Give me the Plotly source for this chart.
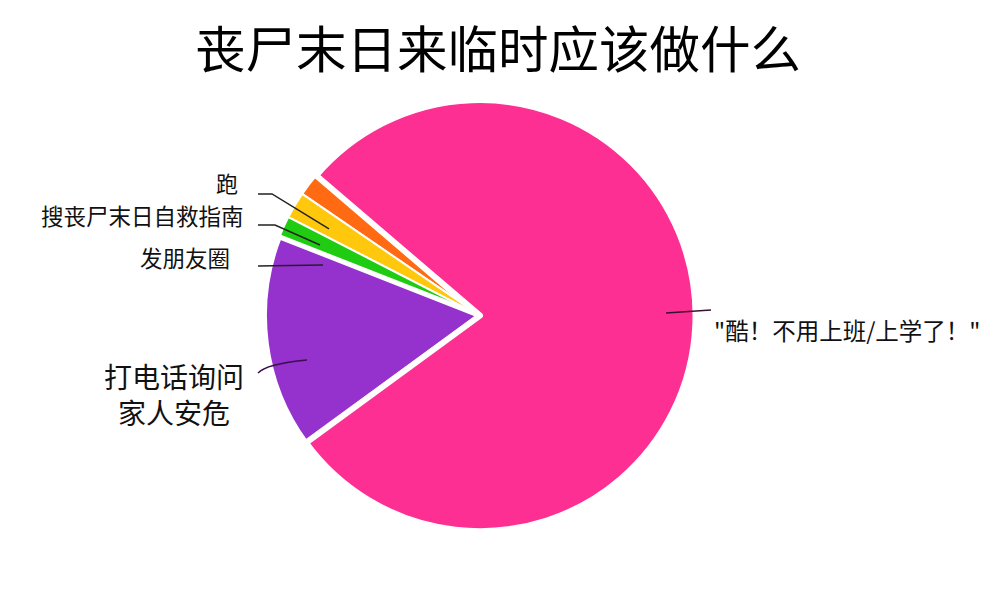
import plotly.graph_objects as go

W, H = 1000, 614

# slices, counter-clockwise from the orange one
labels = ['跑', '搜丧尸末日自救指南', '发朋友圈', '打电话询问<br>家人安危', '"酷！不用上班/上学了！"']
values = [1.7, 2.0, 1.6, 16.0, 78.7]
colors = ['#FF6A13', '#FFC80C', '#20CC12', '#9531CC', '#FE2F92']
title = '丧尸末日来临时应该做什么'


def px(x, y):
    # pixel -> paper coords
    return x / W, 1 - y / H


fig = go.Figure()
fig.add_trace(go.Pie(
    labels=labels, values=values, sort=False, direction='counterclockwise',
    rotation=-55.6, textinfo='none', hoverinfo='label+percent',
    marker=dict(colors=colors, line=dict(color='white', width=[2, 2, 2, 5, 6])),
    domain=dict(x=[0.256, 0.688], y=[0.148, 0.850]),
    showlegend=False,
))

# label text: (x, y, anchor, size); y shifted up to offset the CJK baseline
label_pos = [
    (232, 174, 'right', 22),
    (238, 207, 'right', 22.5),
    (224, 249, 'right', 22.5),
    (166, 386, 'center', 28),
    (704, 322, 'left', 23.5),
]
for txt, (x, y, anc, sz) in zip(labels, label_pos):
    ax, ay = px(x, y)
    fig.add_annotation(x=ax, y=ay, xref='paper', yref='paper', text=txt,
                       showarrow=False, xanchor=anc, yanchor='middle', align='center',
                       font=dict(size=sz, color='#111111', family='Noto Sans CJK SC'))

# leader lines
leaders = [
    ([(250, 186), (264, 186), (321, 221)], '#222222'),
    ([(250, 217), (267, 217), (312, 237)], '#222222'),
    ([(250, 258), (315, 257)], '#222222'),
    ([(658, 305), (703, 302)], '#3a1030'),
]
for pts, col in leaders:
    path = 'M ' + ' L '.join('%.4f %.4f' % px(*p) for p in pts)
    fig.add_shape(type='path', path=path, xref='paper', yref='paper',
                  line=dict(color=col, width=1.5))
# curved one for purple
p0, c, p1 = px(250, 365), px(258, 356), px(299, 352)
fig.add_shape(type='path', xref='paper', yref='paper',
              path='M %.4f %.4f Q %.4f %.4f %.4f %.4f' % (p0 + c + p1),
              line=dict(color='#3a1050', width=1.5))

tx, ty = px(490, 38)
fig.add_annotation(x=tx, y=ty, xref='paper', yref='paper', text=title, showarrow=False,
                   xanchor='center', yanchor='middle',
                   font=dict(size=50.5, color='black', family='Noto Sans CJK SC'))

fig.update_layout(width=W, height=H, margin=dict(l=0, r=0, t=0, b=0),
                  paper_bgcolor='white', plot_bgcolor='white')
fig.write_html('out.html')
